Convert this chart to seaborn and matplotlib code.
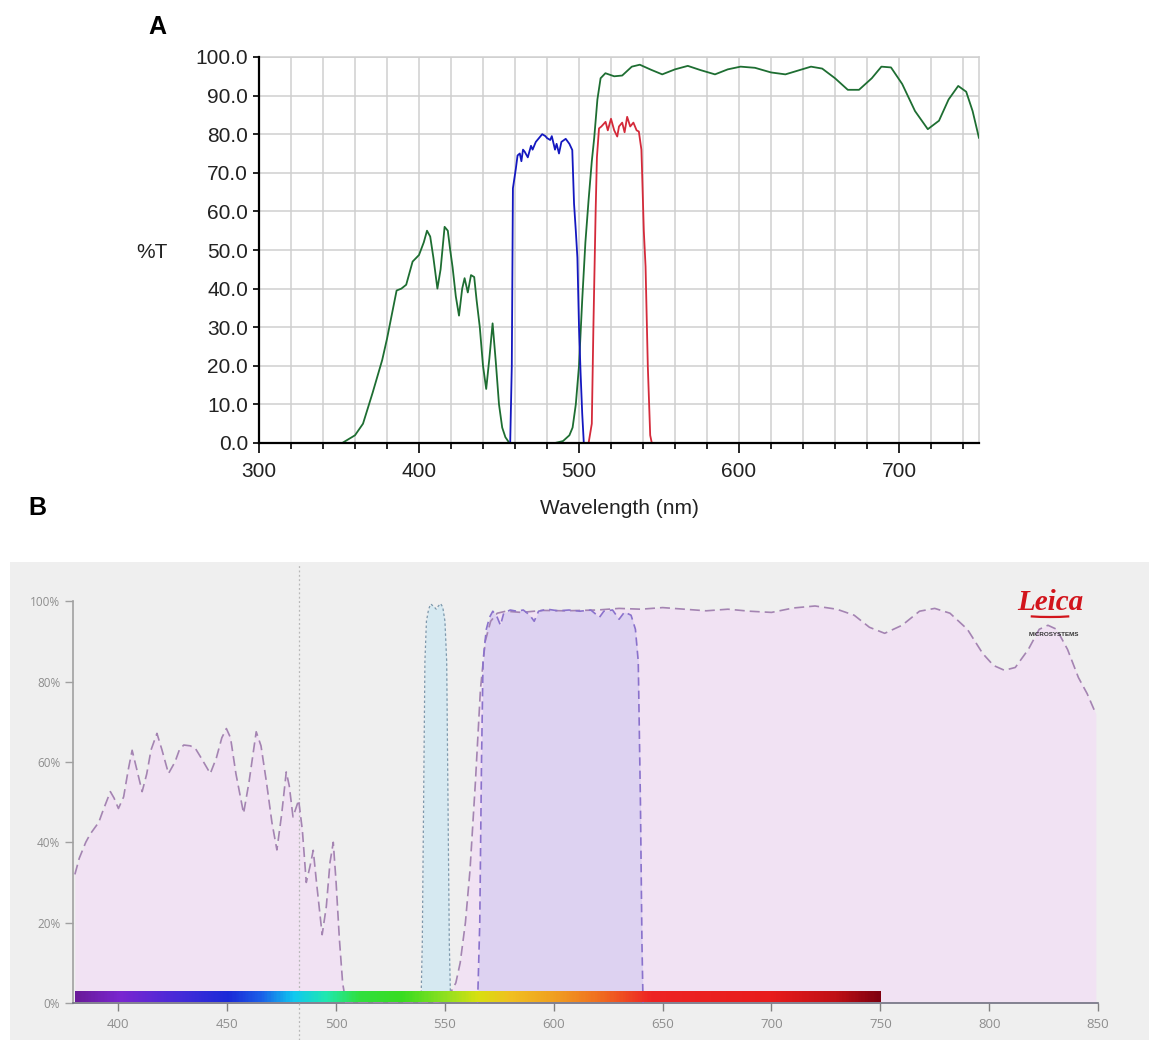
import numpy as np
import pandas as pd
import matplotlib
matplotlib.use("Agg")
import matplotlib.pyplot as plt
import seaborn as sns
from matplotlib.ticker import MultipleLocator, FormatStrFormatter, FuncFormatter
from matplotlib.colors import LinearSegmentedColormap
from matplotlib.patches import Rectangle, Arc

# ---------------- Panel A data ----------------
a_green_nm = [300, 352, 356, 360, 365, 371, 377, 380, 386, 389, 392, 396, 400, 403, 405, 407,
              409, 411.5, 413.5, 416, 418, 419.5, 421, 423, 425, 427, 428.5, 430.5, 432.5, 434.5,
              436, 438, 440, 442, 444, 446, 448, 450, 452, 454, 456.5, 485, 490, 494, 496, 498,
              500, 502, 504, 506, 508, 509.5, 511.5, 513.5, 516.5, 522, 527, 533, 538, 545, 552,
              560, 568, 576, 585, 593, 601, 610, 620, 629, 637, 645, 652, 660, 668, 675, 683,
              689, 695, 702, 710, 718, 725, 731, 737, 742, 746, 750]
a_green_T = [0, 0, 1, 2, 5, 13, 21.5, 27, 39.5, 40, 41, 47, 48.7, 52, 55, 53.5,
             48, 40, 45, 56, 55, 50, 45.5, 38, 33, 40, 42.7, 39, 43.5, 43,
             37, 30, 20, 14, 22, 31, 21, 10, 4, 1.5, 0, 0, 0.5, 2, 4, 10,
             20, 37, 52, 63, 73, 79, 89, 94.5, 95.8, 95, 95.2, 97.5, 98, 96.7, 95.5,
             96.8, 97.7, 96.6, 95.5, 96.8, 97.5, 97.2, 96, 95.5, 96.5, 97.5, 97.0, 94.5, 91.5, 91.5, 94.5,
             97.5, 97.3, 93, 86, 81.3, 83.5, 89, 92.5, 91, 86, 79]

a_blue_nm = [300, 457, 458, 458.7, 460.5, 461.6, 463, 464, 465, 466, 468, 470, 471, 473, 475, 477,
             479, 480, 482, 483, 485, 486, 487.5, 489, 491.7, 494, 495.8, 496.9, 498, 499, 500,
             501, 502, 503, 750]
a_blue_T = [0, 0, 20, 66, 71, 74.5, 75, 73, 76, 75.5, 74, 77, 76, 78, 79, 80,
            79.5, 79, 78.5, 79.5, 76, 77.5, 75, 78, 78.8, 77.5, 75.9, 62, 55, 48, 30,
            18, 7.7, 0, 0]

a_red_nm = [300, 506, 508, 509, 510.4, 511.2, 512.5, 514, 516.6, 518, 520, 522, 523.9, 525, 527,
            528.5, 530.1, 532, 534, 536, 537.4, 539, 539.4, 540.5, 541.6, 543, 544.5, 545.5, 750]
a_red_T = [0, 0, 5, 30, 60, 74, 81.5, 82, 83.2, 81, 84, 81, 79.4, 82, 83,
           80.5, 84.5, 82, 83, 81, 80.7, 76, 70.7, 55, 45.7, 20, 2, 0, 0]

a_xticks = [300, 400, 500, 600, 700]
a_yticks = [0, 10, 20, 30, 40, 50, 60, 70, 80, 90, 100]

# ---------------- Panel B data ----------------
b_em_nm = [380, 382, 385, 387, 389, 391, 393, 396.3, 398, 400, 402.4, 404.5, 406.3, 408.5, 410.9,
           413, 415, 417.7, 420, 423, 426, 428, 430, 433, 435.3, 438, 442.2, 445, 447.5, 449.6,
           451.5, 454, 457.5, 460, 463.3, 465.5, 468, 470.5, 472.8, 475, 477.1, 478.5, 480.2,
           482.8, 484.5, 486.3, 488, 489.5, 491, 493.6, 495.5, 497.2, 498.7, 500, 501.5, 503,
           504.5, 545, 549, 552, 555, 557, 559.4, 561.5, 564, 566.3, 568.5, 571, 574, 578, 585,
           595, 605, 620, 630, 640, 650, 660, 670, 680, 690, 700, 710, 720, 730, 738, 745, 752,
           760, 768, 775, 782, 790, 797, 802, 807, 812, 818, 823, 827, 831, 836, 841, 845, 849]
b_em_T = [32, 36, 40, 42, 43.5, 45, 48, 52.6, 51, 48.4, 51.3, 58, 62.9, 58, 52.6,
          57, 63, 67.1, 63, 57.1, 60, 63, 64.2, 64, 63.4, 61, 57.1, 61, 66, 68.3,
          66, 57, 47.2, 55, 67.5, 64, 55, 45, 38.1, 47, 57.5, 54, 46.3,
          50.5, 43, 30, 34, 38, 30, 17, 24, 35, 40, 30, 16, 5,
          0, 0, 0.5, 2, 5, 10, 20, 33, 55, 78, 90, 95, 97, 97.5, 97.2,
          97.7, 97.6, 97.8, 98.2, 98, 98.4, 98, 97.6, 98, 97.5, 97.2, 98.3, 98.8, 98, 96.5, 93.5, 92,
          94, 97.5, 98.2, 97, 93, 87, 84, 82.8, 83.5, 88, 93, 94, 93, 88, 81, 77, 72]

b_purple_nm = [565, 566, 566.8, 567.5, 569, 570.5, 572, 574, 575.5, 577, 580, 583, 586, 589, 591,
               593, 597, 602, 607, 612, 617, 621, 623, 627, 630, 632.5, 635.5, 637.5, 638.8,
               639.8, 640.5, 641]
b_purple_T = [0, 20, 60, 85, 93, 96, 97.5, 96, 94, 97, 97.8, 97.5, 97.8, 96.5, 95,
              97.5, 98, 97.6, 97.8, 97.5, 97.8, 96, 97.5, 97.8, 95.5, 97.3, 96.5, 93, 85,
              50, 15, 0]

b_cyan_nm = [539, 539.6, 540.2, 540.8, 541.5, 542.5, 543.5, 545, 546, 547, 548, 549, 550, 550.8,
             551.4, 552, 552.6]
b_cyan_T = [0, 15, 50, 85, 95, 98, 99.3, 98.6, 98, 98.8, 99.4, 98.5, 95, 85, 50, 15, 0]

b_marker_nm = 483
b_xticks = [400, 450, 500, 550, 600, 650, 700, 750, 800, 850]
b_yticks = [0, 20, 40, 60, 80, 100]

spectrum_nm = [380, 400, 425, 450, 465, 480, 495, 510, 530, 550, 565, 580, 600, 620, 645, 700, 730, 750]
spectrum_colors = ["#6a1a9a", "#7a26d0", "#4a2ad8", "#1a2ad8", "#1a60e8", "#10c8f0", "#20e8b0",
                   "#30e040", "#38dc20", "#90e020", "#d8e010", "#f0c020", "#f0a020", "#f07020",
                   "#ee2424", "#e81c1c", "#c01016", "#800010"]

# ---------------- Figure ----------------
sns.set_theme(style="white")
plt.rcParams["font.family"] = ["Liberation Sans", "DejaVu Sans"]

W, H = 1149, 1040
fig = plt.figure(figsize=(W / 100, H / 100), dpi=100)
fig.patch.set_facecolor("white")

# ---- Panel B background (drawn first, below axes) ----
bg = Rectangle((10 / W, 0), (W - 10) / W, (H - 562) / H, transform=fig.transFigure,
               facecolor="#efefef", edgecolor="none", zorder=-5)
fig.patches.append(bg)

# ---- Panel A ----
axA = fig.add_axes([259 / W, 1 - 443 / H, (979 - 259) / W, (443 - 57) / H])
axA.set_zorder(2)
axA.set_facecolor("white")
dfA = pd.DataFrame({"nm": a_green_nm, "T": a_green_T})
sns.lineplot(data=dfA, x="nm", y="T", ax=axA, color="#1e6e32", lw=1.3, estimator=None, zorder=3)
sns.lineplot(x=a_blue_nm, y=a_blue_T, ax=axA, color="#1418c0", lw=1.3, estimator=None, zorder=4)
sns.lineplot(x=a_red_nm, y=a_red_T, ax=axA, color="#d42a3a", lw=1.3, estimator=None, zorder=5)
axA.set_xlim(300, 750)
axA.set_ylim(0, 100)
axA.set_xticks(a_xticks)
axA.xaxis.set_minor_locator(MultipleLocator(20))
axA.set_yticks(a_yticks)
axA.yaxis.set_major_formatter(FormatStrFormatter("%.1f"))
axA.grid(True, which="both", axis="x", color="#cfcfcf", lw=1.1, zorder=0)
axA.grid(True, which="major", axis="y", color="#cfcfcf", lw=1.1, zorder=0)
axA.set_axisbelow(True)
for s in ["top", "right"]:
    axA.spines[s].set_color("#cfcfcf")
    axA.spines[s].set_linewidth(1.1)
for s in ["left", "bottom"]:
    axA.spines[s].set_color("black")
    axA.spines[s].set_linewidth(1.6)
    axA.spines[s].set_zorder(10)
axA.tick_params(axis="x", which="major", length=7, width=1.2, color="black", direction="out",
                pad=7, labelsize=15, labelcolor="#222222", bottom=True)
axA.tick_params(axis="x", which="minor", length=4.5, width=1.2, color="black", direction="out",
                bottom=True)
axA.tick_params(axis="y", which="major", length=4, width=1.2, color="black", direction="out",
                pad=4, labelsize=15, labelcolor="#222222", left=True)
axA.set_xlabel("")
axA.set_ylabel("")
fig.text(619 / W, 1 - 509 / H, "Wavelength (nm)", ha="center", va="center", fontsize=15, color="#222222")
fig.text(152 / W, 1 - 252 / H, "%T", ha="center", va="center", fontsize=15, color="#222222")
fig.text(157 / W, 1 - 27 / H, "A", ha="center", va="center", fontsize=18, fontweight="bold", color="black")
fig.text(37 / W, 1 - 508 / H, "B", ha="center", va="center", fontsize=18, fontweight="bold", color="black")

# ---- Panel B ----
axB = fig.add_axes([72.7 / W, 1 - 1003 / H, (1098 - 72.7) / W, (1003 - 565) / H])
axB.set_zorder(2)
axB.patch.set_alpha(0)

axB.fill_between(b_em_nm, b_em_T, 0, color="#f1e2f3", lw=0, zorder=1)
axB.fill_between(b_purple_nm, b_purple_T, 0, color="#ddd2f1", lw=0, zorder=2)
axB.fill_between(b_cyan_nm, b_cyan_T, 0, color="#d6e9f1", lw=0, zorder=2)

sns.lineplot(x=b_em_nm, y=b_em_T, ax=axB, color="#a484b2", lw=1.2, linestyle=(0, (6, 3)),
             estimator=None, sort=False, zorder=4)
sns.lineplot(x=b_purple_nm, y=b_purple_T, ax=axB, color="#8a72cc", lw=1.2, linestyle=(0, (5, 3)),
             estimator=None, sort=False, zorder=5)
sns.lineplot(x=b_cyan_nm, y=b_cyan_T, ax=axB, color="#7d98ac", lw=0.9, linestyle=(0, (2, 2)),
             estimator=None, sort=False, zorder=5)

# spectrum bar
cmap = LinearSegmentedColormap.from_list(
    "spec", [((n - spectrum_nm[0]) / (spectrum_nm[-1] - spectrum_nm[0]), c) for n, c in zip(spectrum_nm, spectrum_colors)])
grad = np.linspace(0, 1, 600)[None, :]
axB.imshow(grad, cmap=cmap, aspect="auto", extent=[spectrum_nm[0], spectrum_nm[-1], 0.3, 2.8],
           zorder=6, interpolation="bilinear")

axB.axvline(b_marker_nm, ymin=-0.085, ymax=1.0, color="#b8b8b8", lw=0.9, linestyle=(0, (1.5, 2)),
            clip_on=False, zorder=3)

axB.set_xlim(379, 850)
axB.set_ylim(0, 109)
axB.set_xticks(b_xticks)
axB.set_yticks(b_yticks)
axB.yaxis.set_major_formatter(FuncFormatter(lambda v, p: f"{int(v)}%"))
for s in ["top", "right"]:
    axB.spines[s].set_visible(False)
axB.spines["left"].set_bounds(0, 100)
axB.spines["left"].set_color("#a0a0a0")
axB.spines["bottom"].set_color("#707080")
axB.spines["left"].set_linewidth(1.2)
axB.spines["bottom"].set_linewidth(1.2)
axB.tick_params(axis="x", length=6, width=1, color="#808080", direction="out", pad=5,
                labelsize=9.5, labelcolor="#8e8e8e", bottom=True)
axB.tick_params(axis="y", length=6, width=1, color="#a0a0a0", direction="out", pad=3,
                labelsize=8.5, labelcolor="#8e8e8e", left=True)
for lab in axB.get_xticklabels() + axB.get_yticklabels():
    lab.set_family(["Open Sans", "DejaVu Sans"])
axB.set_xlabel("")
axB.set_ylabel("")
axB.grid(False)

# Leica logo
fig.text(1050 / W, 1 - 602 / H, "Leica", ha="center", va="center", fontsize=21,
         fontstyle="italic", fontweight="bold", family=["Liberation Serif", "DejaVu Serif"], color="#d2141c")
fig.patches.append(Arc((1050 / W, 1 - 610 / H), 92 / W, 14 / H, theta1=200, theta2=340,
                       transform=fig.transFigure, color="#d2141c", lw=1.6))
fig.text(1054 / W, 1 - 634 / H, "MICROSYSTEMS", ha="center", va="center", fontsize=4.5,
         color="#333333", fontweight="bold")

fig.savefig("out.png", dpi=100)
